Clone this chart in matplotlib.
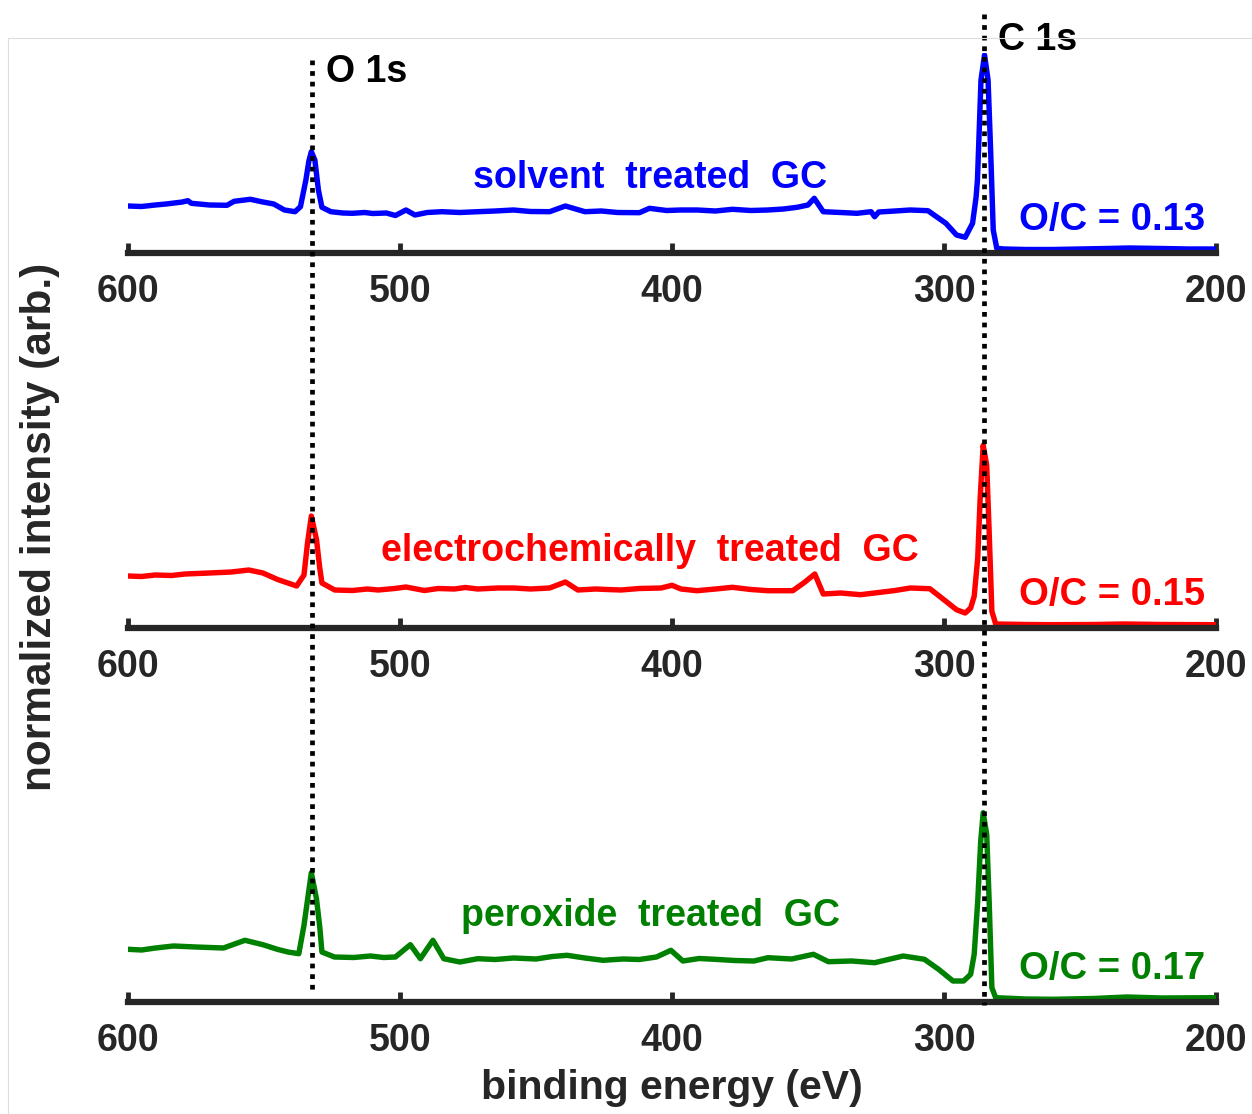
import matplotlib
matplotlib.use("Agg")
import matplotlib.pyplot as plt
from matplotlib.lines import Line2D

plt.rcParams['font.family'] = ['Liberation Sans', 'DejaVu Sans']
plt.rcParams['font.weight'] = 'bold'

# XPS survey spectra (binding energy in eV, intensity in arbitrary units)
solvent_ev = [600, 595, 590, 586, 580, 578, 576.7, 570, 563.6, 561, 555, 550.4, 546.4, 542.5,
              538.6, 536.6, 534.6, 533.5, 532.6, 531.3, 530, 528.7, 525.4, 521, 517.5, 513, 510,
              505, 501.7, 497.8, 494.5, 490, 484.6, 478, 471.4, 465, 458.3, 452, 445, 439.2, 432,
              426, 420, 412, 408.3, 402, 396.7, 390.8, 384, 377.8, 371, 364.7, 359, 354, 350,
              347.7, 344.4, 338, 332, 326.8, 325.5, 324, 318, 312.4, 305.9, 299.3, 295.4, 292.2,
              289.5, 288.2, 287.7, 286.4, 285.1, 283.8, 282.9, 281.9, 280.6, 278, 270, 260, 250,
              240, 232, 220, 210, 200]
solvent_int = [47, 46.5, 48, 49, 51, 52.3, 49.7, 48, 47.7, 51.7, 53.7, 51, 49, 43,
               41.3, 46.3, 73, 92, 101.3, 93, 63, 45.7, 41.3, 40, 39.7, 40.5, 39.5,
               40, 37.5, 43, 38, 40.5, 41.3, 40.5, 41.3, 42, 43, 41.5, 41.3, 47, 41.3,
               42, 40.5, 40.3, 44.7, 42.5, 43, 43, 42, 43.7, 42.5, 43, 44, 45.7, 48,
               54.7, 41.3, 40.5, 39.7, 41.3, 36.3, 41, 42, 43, 42.3, 29.7, 18, 15.7,
               29.7, 56, 73, 173, 198, 173, 106, 23, 4.7, 4, 3.5, 3.5, 4,
               4.5, 5, 4.5, 4, 4]

echem_ev = [600, 595, 590, 584, 579, 570, 562, 555.6, 550.4, 545, 538, 535.3, 534, 532.6,
            530.7, 529.5, 528.7, 524, 517.5, 512, 508, 502, 497.8, 491, 486, 480, 476, 471.4,
            464, 458, 452, 445, 439.2, 434.6, 428, 424, 418.8, 412, 404, 400, 396.7, 390.8,
            384, 377.8, 371, 364.7, 355.6, 351.6, 347.5, 344.4, 338, 330.7, 325.5, 318, 312.4,
            305.2, 299.3, 295.4, 292.2, 290.2, 288.9, 287.6, 286.7, 285.6, 284.3, 283.4,
            282.4, 281, 270, 260, 245, 234, 220, 200]
echem_int = [52, 51.5, 53, 52.5, 54, 55, 56, 58, 55, 48.5, 42, 53, 85, 112,
             88.5, 60, 45, 38, 37.5, 39, 38, 39.5, 41, 37.5, 39.5, 39, 40.5, 39,
             40, 40, 39, 40, 46, 38, 39, 38.5, 38, 39.5, 40, 42.7, 39, 37.3,
             39, 40.7, 38.5, 37.3, 37.3, 45, 54, 34, 35, 33.3, 35, 37.5, 40,
             39.3, 26.7, 18.3, 15, 20, 31.7, 70, 130, 182.7, 163, 96.7,
             16.7, 4, 3.5, 3.3, 3.5, 4, 3.5, 3.3]

perox_ev = [600, 595, 589.9, 583.3, 575, 570, 564.9, 557, 550.4, 545.1, 541.2, 537.2, 535.3,
            532.6, 530.7, 529.5, 528.7, 524.1, 517, 510.9, 506, 501.7, 496.2, 492.5, 487.9,
            483.9, 478, 471.4, 465, 458.3, 450, 444, 438.6, 432, 425.4, 418, 412, 405.7,
            400.4, 396, 390, 384.3, 377, 369.9, 364.7, 356, 348, 342.5, 334, 325.5, 315,
            307.2, 302, 296.7, 292.8, 290.2, 288.9, 287.6, 286.5, 285.6, 284.3, 283.4, 282.4,
            281, 270, 260, 245, 232.7, 220, 200]
perox_int = [52.7, 52, 54, 56, 55, 54.5, 54, 61.7, 57.3, 52.7, 50, 48.3, 76.7,
             129.3, 103, 75, 50, 45, 44.5, 46, 44.5, 45, 57.3, 43.3, 61.7,
             43.3, 40, 43.3, 42.5, 44, 43, 45.5, 46.7, 44, 41.7, 43, 42.5, 45,
             51.7, 41, 43.5, 42.7, 41.5, 41, 44.3, 43, 47.7, 40.3, 41, 39.3, 46,
             42.7, 32.7, 21, 21, 27.7, 47.7, 101, 161, 189.3, 167.7, 101, 14.3,
             4.3, 3, 2.7, 3.5, 5, 4, 4.3]

sample_names = ['solvent  treated  GC', 'electrochemically  treated  GC', 'peroxide  treated  GC']
oc_ratios = [0.13, 0.15, 0.17]
colors = ['#0000ff', '#ff0000', '#008000']
core_levels = ['O 1s', 'C 1s']
core_energies = [532.5, 285.2]
ticks = [600, 500, 400, 300, 200]

W, H = 1252, 1114
fig = plt.figure(figsize=(W / 100, H / 100), dpi=100)

x0, x1 = 128, 1216
axis_rows = [253, 628, 1002]
panel_h = 200
spectra = [(solvent_ev, solvent_int), (echem_ev, echem_int), (perox_ev, perox_int)]
name_y = [75, 77, 86]
ink = '#262626'

for i, row in enumerate(axis_rows):
    ax = fig.add_axes([x0 / W, 1 - row / H, (x1 - x0) / W, panel_h / H])
    ev, inten = spectra[i]
    ax.plot(ev, inten, color=colors[i], lw=3.9, solid_joinstyle='round')
    ax.set_xlim(600, 200)
    ax.set_ylim(0, panel_h)
    ax.patch.set_visible(False)
    for s in ['top', 'left', 'right']:
        ax.spines[s].set_visible(False)
    ax.spines['bottom'].set_linewidth(4.5)
    ax.spines['bottom'].set_color(ink)
    ax.set_yticks([])
    ax.set_xticks(ticks)
    ax.tick_params(axis='x', direction='in', length=7, width=3.5, color=ink,
                   labelsize=27, labelcolor=ink, pad=15)
    for lab in ax.get_xticklabels():
        lab.set_fontweight('bold')
    ax.text(408, name_y[i], sample_names[i], color=colors[i], fontsize=27,
            fontweight='bold', ha='center', va='center')
    ax.text(204, 33, f'O/C = {oc_ratios[i]:.2f}', color=colors[i], fontsize=27.5,
            fontweight='bold', ha='right', va='center')

# dotted reference lines for the core levels, drawn over all three panels
ov = fig.add_axes([x0 / W, 0, (x1 - x0) / W, 1])
ov.set_xlim(600, 200)
ov.set_ylim(H, 0)
ov.axis('off')
dots = (0, (1, 1.25))
ov.vlines(core_energies[0], 60, 993, colors='black', linestyles=[dots], lw=3.4)
ov.vlines(core_energies[1], 14, 1005, colors='black', linestyles=[dots], lw=3.4)
ov.text(527.2, 72, core_levels[0], fontsize=27, fontweight='bold', ha='left', va='center')
ov.text(280.2, 40, core_levels[1], fontsize=27, fontweight='bold', ha='left', va='center')

fig.text(40 / W, 1 - 527 / H, 'normalized intensity (arb.)', rotation=90, fontsize=30.5,
         fontweight='bold', color=ink, ha='center', va='center')
fig.text(672 / W, 1 - 1088 / H, 'binding energy (eV)', fontsize=29.5,
         fontweight='bold', color=ink, ha='center', va='center')

# thin frame edges along the top and left
fig.add_artist(Line2D([8 / W, 1], [1 - 38 / H] * 2, color='#dddddd', lw=0.8))
fig.add_artist(Line2D([8 / W] * 2, [0, 1 - 38 / H], color='#dddddd', lw=0.8))

fig.savefig('out.png', dpi=100)
